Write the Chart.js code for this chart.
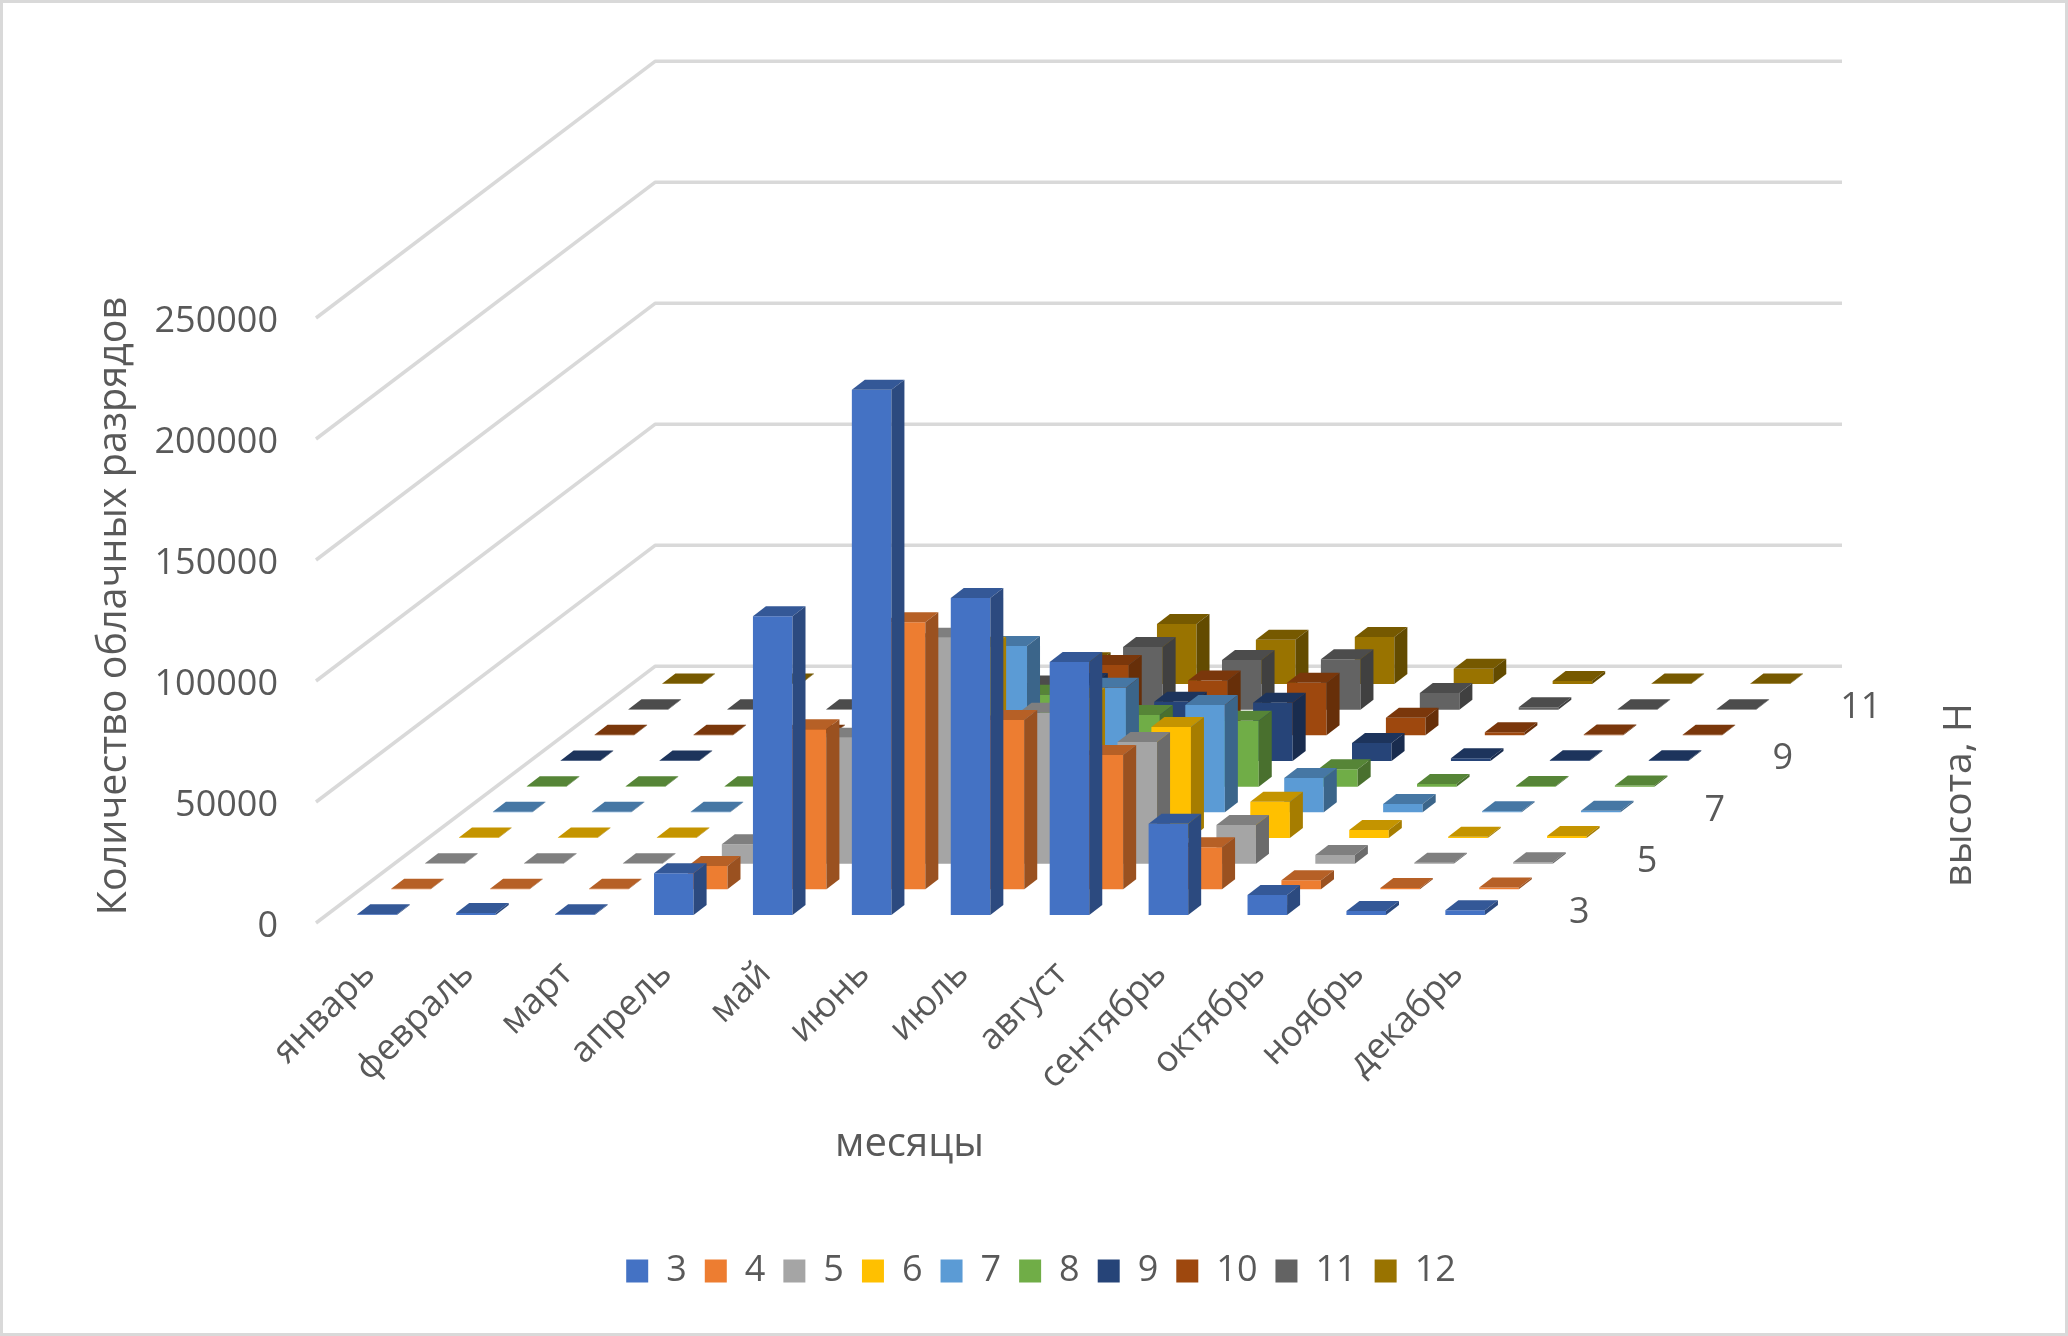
<!DOCTYPE html>
<html lang="ru">
<head>
<meta charset="utf-8">
<title>Количество облачных разрядов</title>
<script src="https://cdn.jsdelivr.net/npm/chart.js@4"></script>
<style>
  html, body { margin: 0; padding: 0; background: #fff; }
  canvas { display: block; }
</style>
</head>
<body>
<canvas id="chart" width="2068" height="1336"></canvas>
<script>
const months = ['январь', 'февраль', 'март', 'апрель', 'май', 'июнь', 'июль', 'август', 'сентябрь', 'октябрь', 'ноябрь', 'декабрь'];
const heights = ['3', '4', '5', '6', '7', '8', '9', '10', '11', '12'];
const depthLabels = ['3', '5', '7', '9', '11'];
const colors = ['#4472C4', '#ED7D31', '#A5A5A5', '#FFC000', '#5B9BD5', '#70AD47', '#264478', '#9E480E', '#636363', '#997300'];

const h3 = [300, 800, 300, 17300, 123500, 217000, 131000, 104500, 37700, 8300, 1650, 2000];
const h4 = [250, 250, 250, 9600, 66200, 110400, 70000, 55500, 17400, 3800, 500, 800];
const h5 = [200, 200, 200, 8000, 52000, 93300, 62400, 50300, 16000, 3600, 400, 600];
const h6 = [200, 200, 200, 5000, 40000, 79000, 58000, 45900, 15000, 3300, 500, 800];
const h7 = [200, 200, 200, 3000, 35000, 68700, 51500, 44300, 14200, 3400, 400, 600];
const h8 = [200, 200, 200, 3000, 20000, 38000, 29600, 27200, 7200, 1100, 300, 500];
const h9 = [200, 200, 200, 1000, 15000, 32200, 24500, 24100, 7400, 1100, 300, 300];
const h10 = [200, 200, 200, 1000, 12000, 29100, 22600, 21700, 7300, 1300, 300, 200];
const h11 = [200, 200, 200, 1000, 10000, 25900, 20500, 20800, 6900, 1000, 200, 200];
const h12 = [200, 200, 200, 1000, 9000, 24800, 18300, 19400, 6300, 1200, 200, 200];
const rows = [h3, h4, h5, h6, h7, h8, h9, h10, h11, h12];

const font = '"Open Sans", sans-serif';
const textColor = '#595959';
const gridColor = '#d9d9d9';

// oblique projection of the 3D look: one row back, and the depth of one bar
const rowX = 33.9, rowY = 25.67;
const firstX = 11.6, firstY = 8;
const barX = 13, barY = 10;

function shade(hex, k) {
  const n = parseInt(hex.slice(1), 16);
  const c = [n >> 16, (n >> 8) & 255, n & 255].map(v => Math.round(v * k));
  return `rgb(${c[0]},${c[1]},${c[2]})`;
}
function poly(ctx, pts, fill) {
  ctx.fillStyle = fill;
  ctx.beginPath();
  pts.forEach(([x, y], i) => i ? ctx.lineTo(x, y) : ctx.moveTo(x, y));
  ctx.closePath();
  ctx.fill();
}
function rotatedText(ctx, text, x, y, size) {
  ctx.save();
  ctx.translate(x, y);
  ctx.rotate(-Math.PI / 2);
  ctx.font = `${size}px ${font}`;
  ctx.fillStyle = textColor;
  ctx.textAlign = 'center';
  ctx.textBaseline = 'middle';
  ctx.fillText(text, 0, 0);
  ctx.restore();
}

const bars3d = {
  id: 'bars3d',
  beforeDraw(chart) {
    const { ctx, width, height } = chart;
    ctx.save();
    ctx.fillStyle = '#fff';
    ctx.fillRect(0, 0, width, height);
    ctx.strokeStyle = gridColor;
    ctx.lineWidth = 3;
    ctx.strokeRect(1.5, 1.5, width - 3, height - 3);
    ctx.restore();
  },
  beforeDatasetsDraw(chart) {
    // walls: every y tick runs back along the side wall, then across the back wall
    const { ctx, chartArea, scales } = chart;
    const wallX = rowX * rows.length, wallY = rowY * rows.length;
    ctx.save();
    ctx.strokeStyle = gridColor;
    ctx.lineWidth = 3.5;
    ctx.lineJoin = 'round';
    scales.y.ticks.forEach(t => {
      const y = scales.y.getPixelForValue(t.value);
      ctx.beginPath();
      ctx.moveTo(chartArea.left, y);
      ctx.lineTo(chartArea.left + wallX, y - wallY);
      ctx.lineTo(chartArea.right + wallX, y - wallY);
      ctx.stroke();
    });
    ctx.restore();
  },
  beforeDatasetDraw(chart, args) {
    const { ctx } = chart;
    ctx.save();
    ctx.translate(firstX + rowX * args.index, -(firstY + rowY * args.index));
  },
  afterDatasetDraw(chart, args) {
    const { ctx } = chart;
    const color = colors[args.index];
    args.meta.data.forEach(bar => {
      const l = bar.x - bar.width / 2, r = bar.x + bar.width / 2;
      poly(ctx, [[l, bar.y], [r, bar.y], [r + barX, bar.y - barY], [l + barX, bar.y - barY]], shade(color, 0.77));
      poly(ctx, [[r, bar.y], [r + barX, bar.y - barY], [r + barX, bar.base - barY], [r, bar.base]], shade(color, 0.65));
    });
    ctx.restore();
  },
  afterDraw(chart) {
    const { ctx, chartArea } = chart;
    ctx.save();
    ctx.font = `36px ${font}`;
    ctx.fillStyle = textColor;
    ctx.textAlign = 'left';
    ctx.textBaseline = 'middle';
    depthLabels.forEach((label, i) => {
      ctx.fillText(label, chartArea.right + 66 + rowX * 2 * i, chartArea.bottom - 10 - rowY * 2 * i);
    });
    ctx.restore();
    rotatedText(ctx, 'Количество облачных разрядов', 115, 606, 39.5);
    rotatedText(ctx, 'высота, Н', 1960, 795, 39);
  }
};

new Chart(document.getElementById('chart'), {
  type: 'bar',
  plugins: [bars3d],
  data: {
    labels: months,
    datasets: rows.map((values, i) => ({
      label: heights[i],
      data: values,
      backgroundColor: colors[i],
      grouped: false,
      barPercentage: 0.4,
      categoryPercentage: 1,
      clip: false
    }))
  },
  options: {
    responsive: false,
    animation: false,
    devicePixelRatio: 1,
    layout: { padding: { left: 14, top: 318, right: 0, bottom: 37 } },
    plugins: {
      tooltip: { enabled: false },
      legend: {
        position: 'bottom',
        labels: {
          boxWidth: 22,
          boxHeight: 23,
          padding: 18,
          color: textColor,
          font: { family: font, size: 36 }
        }
      }
    },
    scales: {
      x: {
        grid: { display: false, drawTicks: false },
        border: { display: false },
        ticks: {
          color: textColor,
          font: { family: font, size: 36 },
          autoSkip: false,
          minRotation: 45,
          maxRotation: 45,
          padding: 30,
          labelOffset: 4
        },
        title: {
          display: true,
          text: 'месяцы',
          color: textColor,
          font: { family: font, size: 40 },
          padding: { top: 0, bottom: 66 }
        },
        afterFit(scale) { scale.height = 312; }
      },
      y: {
        min: 0,
        max: 250000,
        grid: { display: false, drawTicks: false },
        border: { display: false },
        ticks: {
          stepSize: 50000,
          color: textColor,
          font: { family: font, size: 36 },
          padding: 38,
          labelOffset: 4,
          callback: v => String(v)
        },
        afterFit(scale) { scale.width = 302; }
      },
      yRight: {
        position: 'right',
        display: true,
        grid: { display: false, drawTicks: false },
        border: { display: false },
        ticks: { display: false },
        afterFit(scale) { scale.width = 565; }
      }
    }
  }
});
</script>
</body>
</html>
